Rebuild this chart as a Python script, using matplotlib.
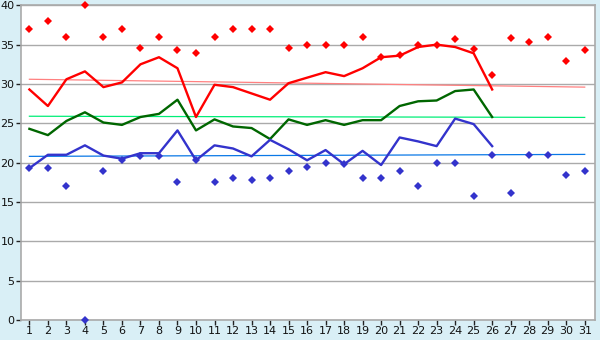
import matplotlib
matplotlib.use("Agg")
import matplotlib.pyplot as plt

days = list(range(1, 32))
line_days = list(range(1, 27))

# daily extremes (diamonds)
max_temps = [37, 38, 36, 40, 36, 37, 34.6, 36, 34.3, 34.0,
             36, 37, 37, 37, 34.6, 35, 35, 35, 36, 33.4,
             33.7, 34.9, 35, 35.7, 34.5, 31.1, 35.8, 35.3, 36, 32.9, 34.3]
min_temps = [19.3, 19.3, 17.0, 0, 19.0, 20.3, 20.8, 20.8, 17.5, 20.3,
             17.5, 18.0, 17.75, 18.0, 19.0, 19.4, 20.0, 19.8, 18.0, 18.0,
             19.0, 17.0, 20.0, 20.0, 15.8, 21.0, 16.1, 21.0, 21.0, 18.4, 19.0]

# running lines for days 1-26
high_line = [29.3, 27.2, 30.6, 31.6, 29.6, 30.2, 32.5, 33.4, 32.0, 25.8,
             29.9, 29.6, 28.8, 28.0, 30.1, 30.8, 31.5, 31.0, 32.0, 33.4,
             33.6, 34.7, 35.0, 34.7, 33.9, 29.3]
mean_line = [24.3, 23.5, 25.3, 26.4, 25.1, 24.8, 25.8, 26.2, 28.0, 24.1,
             25.5, 24.6, 24.4, 23.0, 25.5, 24.8, 25.4, 24.8, 25.4, 25.4,
             27.2, 27.8, 27.9, 29.1, 29.3, 25.8]
low_line = [19.3, 21.0, 21.0, 22.2, 20.9, 20.5, 21.2, 21.2, 24.1, 20.3,
            22.2, 21.8, 20.8, 22.9, 21.7, 20.3, 21.6, 19.8, 21.5, 19.7,
            23.2, 22.7, 22.1, 25.6, 24.9, 22.1]

# normals (straight lines from day 1 to day 31)
normal_days = [1, 31]
normal_high = [30.6, 29.6]
normal_mean = [25.9, 25.75]
normal_low = [20.8, 21.05]

bg = "#d9eff6"
fig = plt.figure(figsize=(6, 3.4), dpi=100, facecolor=bg)
ax = fig.add_axes([0.0345, 0.0588, 0.957, 0.9256])
ax.set_facecolor("white")

ax.grid(True, axis="y", color="#aaaaaa", linewidth=1.0)
ax.set_axisbelow(True)

ax.plot(normal_days, normal_high, color="#ff8080", linewidth=0.9)
ax.plot(normal_days, normal_mean, color="#00ee77", linewidth=0.9)
ax.plot(normal_days, normal_low, color="#0a78e6", linewidth=0.9)

ax.plot(line_days, high_line, color="#ff0000", linewidth=1.7)
ax.plot(line_days, mean_line, color="#006600", linewidth=1.7)
ax.plot(line_days, low_line, color="#3333cc", linewidth=1.7)

ax.plot(days, max_temps, linestyle="none", marker="D", markersize=3.8,
        color="#ff0000", markeredgewidth=0, clip_on=False, zorder=4)
ax.plot(days, min_temps, linestyle="none", marker="D", markersize=3.8,
        color="#3333cc", markeredgewidth=0, clip_on=False, zorder=4)

ax.set_xlim(0.53, 31.55)
ax.set_ylim(0, 40)
ax.set_xticks(days)
ax.set_yticks(range(0, 41, 5))

for side in ["left", "right", "top", "bottom"]:
    ax.spines[side].set_color("#aaaaaa")
    ax.spines[side].set_linewidth(1.2)

ax.tick_params(axis="both", direction="out", length=3.5, width=1,
               color="#222222", labelsize=8, labelcolor="#111111", pad=1)

fig.savefig("out.png", dpi=100, facecolor=bg)
